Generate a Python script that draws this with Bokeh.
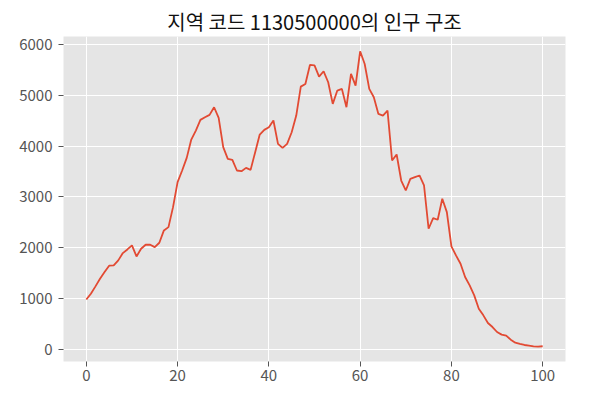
from bokeh.plotting import figure
from bokeh.models import Range1d, FixedTicker
from bokeh.embed import file_html
from bokeh.resources import INLINE

ages = list(range(0, 101))
population = [
    980, 1095, 1239, 1390, 1521, 1646, 1652, 1751, 1895, 1967,
    2046, 1829, 1980, 2059, 2059, 2013, 2098, 2341, 2406, 2800,
    3292, 3521, 3770, 4131, 4308, 4518, 4570, 4616, 4767, 4557,
    3980, 3751, 3731, 3521, 3508, 3573, 3534, 3882, 4229, 4321,
    4374, 4505, 4046, 3967, 4046, 4275, 4603, 5173, 5226, 5600,
    5593, 5370, 5475, 5259, 4833, 5095, 5128, 4767, 5423, 5193,
    5869, 5619, 5128, 4964, 4636, 4603, 4701, 3718, 3836, 3324,
    3128, 3357, 3390, 3423, 3226, 2374, 2583, 2551, 2964, 2701,
    2026, 1849, 1685, 1423, 1259, 1062, 800, 669, 518, 439,
    341, 289, 269, 190, 131, 105, 85, 72, 59, 52,
    60,
]
x_ticks = [0, 20, 40, 60, 80, 100]
y_ticks = [0, 1000, 2000, 3000, 4000, 5000, 6000]
title_text = "지역 코드 1130500000의 인구 구조"

FONT = "Noto Sans CJK KR"

p = figure(
    width=578, height=388,
    output_backend="svg", toolbar_location=None,
    x_range=Range1d(-5, 105), y_range=Range1d(-240, 6160),
    min_border_left=63, min_border_right=13,
    min_border_top=36, min_border_bottom=27,
    background_fill_color="#E5E5E5",
    border_fill_color="white",
)
p.outline_line_color = None
p.title.text = title_text
p.title.align = "center"
p.title.text_font = FONT
p.title.text_font_size = "20px"
p.title.text_font_style = "normal"
p.title.text_color = "#111111"
p.title.standoff = 2

p.line(ages, population, line_color="#E24A33", line_width=1.8)

p.xaxis.ticker = FixedTicker(ticks=x_ticks)
p.yaxis.ticker = FixedTicker(ticks=y_ticks)
for ax in (p.xaxis, p.yaxis):
    ax.axis_line_color = None
    ax.major_tick_line_color = "#555555"
    ax.major_tick_out = 5
    ax.major_tick_in = 0
    ax.minor_tick_line_color = None
    ax.major_label_text_color = "#555555"
    ax.major_label_text_font = FONT
    ax.major_label_text_font_size = "15px"
p.xaxis.major_label_standoff = 3
p.yaxis.major_label_standoff = 6

p.grid.grid_line_color = "white"
p.grid.grid_line_width = 1

open("out.html", "w").write(file_html(p, INLINE))
